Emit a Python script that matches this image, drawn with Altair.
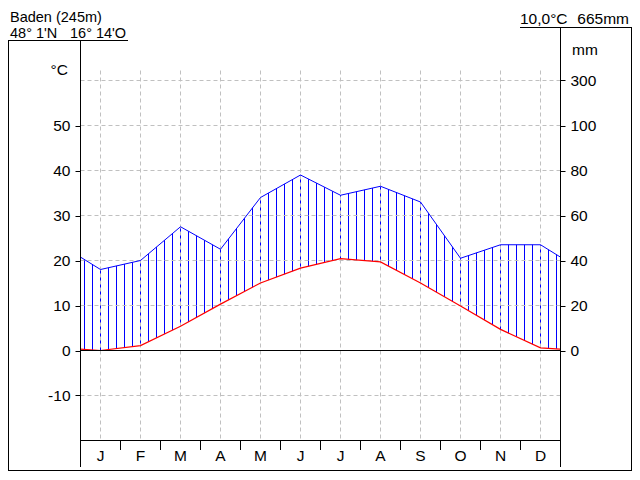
import altair as alt
import pandas as pd

# ---------------- data ----------------
STATION = "Baden (245m)"
LATITUDE = "48° 1'N"
LONGITUDE = "16° 14'O"
MEAN_TEMP_TEXT = "10,0°C"
ANNUAL_PRECIP_TEXT = "665mm"

MONTHS = ["J", "F", "M", "A", "M", "J", "J", "A", "S", "O", "N", "D"]
MONTH_NUM = list(range(1, 13))
TEMP = [0.0, 1.1, 5.4, 10.3, 15.0, 18.3, 20.4, 19.7, 15.0, 9.9, 4.7, 0.6]   # °C
PRECIP = [36, 40, 55, 45, 68, 78, 69, 73, 66, 41, 47, 47]                    # mm

TEMP_TICKS = [-10, 0, 10, 20, 30, 40, 50]
PRECIP_TICK_POS = [0, 10, 20, 30, 40, 50, 60]      # in °C units -> 0..100, 300 mm
GRID_LEVELS = [-10, 10, 20, 30, 40, 50, 60]

# ---------------- style ----------------
FONT = "Liberation Sans"
FS = 15.5
FS_HEAD = 14.5
W, H = 480, 400
T_MIN = -20
T_MAX = T_MIN + 400 / 4.5
GRID_COLOR = "#c0c0c0"
BLUE = "#0000ff"
RED = "#ff0000"

# cyclic repetition (Dec before Jan, Jan after Dec); clipped to the plot
m_cyc = [0] + MONTH_NUM + [13]
t_cyc = [TEMP[-1]] + TEMP + [TEMP[0]]
p_cyc = [PRECIP[-1]] + PRECIP + [PRECIP[0]]
climate = pd.DataFrame({"m": m_cyc, "t": t_cyc, "p": p_cyc})
month_df = pd.DataFrame({"m": MONTH_NUM, "label": MONTHS})
one = pd.DataFrame({"k": [0]})

xs = alt.Scale(domain=[0.5, 12.5], range=[0.5, W + 0.5], nice=False, zero=False)
ys = alt.Scale(domain=[T_MIN, T_MAX], range=[H + 0.5, 0.5], nice=False, zero=False)

PT_EXPR = "datum.p <= 100 ? datum.p / 2 : 50 + (datum.p - 100) / 20"
base = alt.Chart(climate).transform_calculate(pt=PT_EXPR)

lo = min(TEMP)
hi = max(p / 2 if p <= 100 else 50 + (p - 100) / 20 for p in PRECIP)

X = alt.X("m:Q", scale=xs, axis=None)

# hatching: vertical blue rules, masked above precipitation and below temperature
hatch = alt.Chart(alt.sequence(0.6, 12.45, 0.2, as_="h")).mark_rule(
    color=BLUE, strokeWidth=1
).encode(
    x=alt.X("h:Q", scale=xs, axis=None),
    y=alt.YDatum(lo - 0.5, scale=ys, axis=None),
    y2=alt.datum(hi + 0.5),
)
mask_top = base.mark_area(color="white", opacity=1, clip=True).encode(
    x=X, y=alt.Y("pt:Q", scale=ys, axis=None), y2=alt.datum(hi + 2)
)
mask_bot = base.mark_area(color="white", opacity=1, clip=True).encode(
    x=X, y=alt.Y("t:Q", scale=ys, axis=None), y2=alt.datum(lo - 2)
)

hgrid = alt.Chart(pd.DataFrame({"g": GRID_LEVELS})).mark_rule(
    color=GRID_COLOR, strokeDash=[4, 3], strokeWidth=1
).encode(y=alt.Y("g:Q", scale=ys, axis=None), x=alt.value(0.5), x2=alt.value(W + 0.5))
vgrid = alt.Chart(pd.DataFrame({"m": MONTH_NUM})).mark_rule(
    color=GRID_COLOR, strokeDash=[4, 3], strokeWidth=1
).encode(x=X, y=alt.value(30.5), y2=alt.value(H + 0.5))

axis_common = dict(
    title=None, domain=False, grid=False, ticks=True, tickSize=5, tickColor="black",
    tickWidth=1, labelFont=FONT, labelFontSize=FS, labelColor="black",
    labelPadding=5, labelFlush=False, labelOverlap=False,
)
tline = base.mark_line(color=RED, strokeWidth=1.2, clip=True).encode(
    x=X,
    y=alt.Y("t:Q", scale=ys, axis=alt.Axis(orient="left", values=TEMP_TICKS,
                                            labelExpr="'' + datum.value", **axis_common)),
)
pline = base.mark_line(color=BLUE, strokeWidth=1, clip=True).encode(
    x=X,
    y=alt.Y("pt:Q", scale=ys, axis=alt.Axis(
        orient="right", values=PRECIP_TICK_POS,
        labelExpr="'' + (datum.value <= 50 ? datum.value * 2 : 100 + (datum.value - 50) * 20)",
        **axis_common)),
)
zero = alt.Chart(one).mark_rule(color="black", strokeWidth=1).encode(
    y=alt.YDatum(0, scale=ys, axis=None), x=alt.value(0.5), x2=alt.value(W + 0.5)
)


def rule(x1, y1, x2, y2):
    return alt.Chart(one).mark_rule(color="black", strokeWidth=1).encode(
        x=alt.value(x1), x2=alt.value(x2), y=alt.value(y1), y2=alt.value(y2)
    )


def txt(s, px, py, align="left", size=FS):
    return alt.Chart(one).mark_text(
        text=s, align=align, baseline="alphabetic", font=FONT, fontSize=size, color="black"
    ).encode(x=alt.value(px), y=alt.value(py))


month_ticks = alt.Chart(alt.sequence(1.5, 12, 1, as_="b")).mark_rule(
    color="black", strokeWidth=1
).encode(x=alt.X("b:Q", scale=xs, axis=None), y=alt.value(H), y2=alt.value(H + 10))
month_labels = alt.Chart(month_df).mark_text(
    baseline="alphabetic", align="center", font=FONT, fontSize=FS, color="black"
).encode(x=X, y=alt.value(H + 21), text="label:N")

RH = -12.5   # right header underline (plot coords)
decor = [
    rule(0.5, 0, 0.5, 427),            # left axis line
    rule(W + 0.5, RH, W + 0.5, 427),   # right axis line
    rule(0, H + 0.5, W + 1, H + 0.5),  # bottom of plot
    rule(-72, 0.5, 48, 0.5),           # left header underline
    rule(440, RH, 552, RH),            # right header underline
    rule(-71.5, 0.5, -71.5, 430.5),    # frame left
    rule(551.5, RH, 551.5, 430.5),     # frame right
    rule(-72, 430.5, 552, 430.5),      # frame bottom
    txt(STATION, -70, -18.5, size=FS_HEAD),
    txt(LATITUDE, -70, -2, size=FS_HEAD),
    txt(LONGITUDE, -10, -2, size=FS_HEAD),
    txt(MEAN_TEMP_TEXT, 440, -16),
    txt(ANNUAL_PRECIP_TEXT, 549, -16, align="right"),
    txt("°C", -12, 35, align="right"),
    txt("mm", 492, 15),
]

chart = alt.layer(
    hatch, mask_top, mask_bot, hgrid, vgrid, tline, pline, zero,
    month_ticks, month_labels, *decor
).resolve_axis(y="independent").properties(
    width=W, height=H,
    padding={"left": 72, "top": 32, "right": 72, "bottom": 32},
    autosize=alt.AutoSizeParams(type="none"),
    background="white",
).configure_view(stroke=None)

chart.save("out.html", embed_options={"renderer": "svg", "actions": False})
